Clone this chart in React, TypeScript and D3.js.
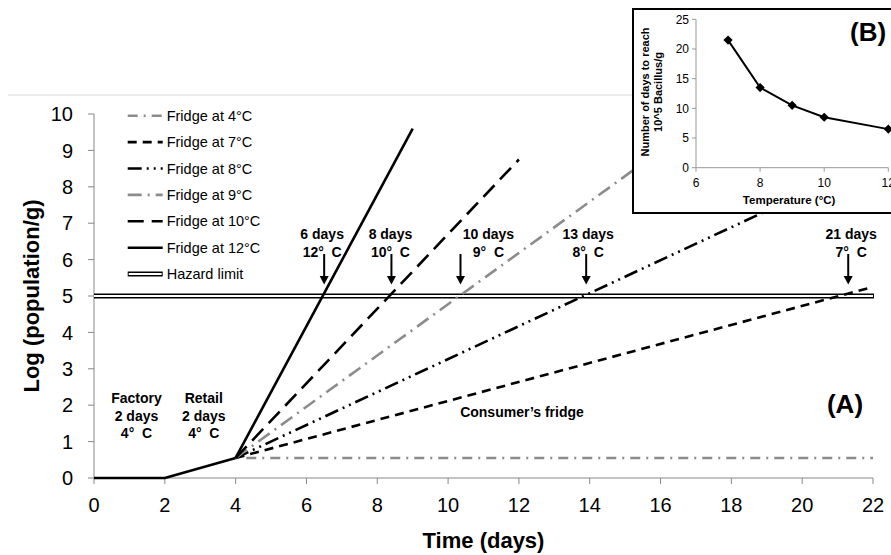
import React from "react";
import * as d3 from "d3";

// ---------- data ----------
const commonDays = [0, 2, 4];
const commonLog = [0, 0, 0.55];

const fridgeLabels = [
  "Fridge at 4°C",
  "Fridge at 7°C",
  "Fridge at 8°C",
  "Fridge at 9°C",
  "Fridge at 10°C",
  "Fridge at 12°C",
];
const fridgeStartDay = 4;
const fridgeStartLog = 0.55;
const fridgeEndDay = [22, 22, 22, 16, 12, 9];
const fridgeEndLog = [0.55, 5.25, 8.7, 9.0, 8.75, 9.6];

const hazardLimit = 5;
const hazardLabel = "Hazard limit";

const xTicks = [0, 2, 4, 6, 8, 10, 12, 14, 16, 18, 20, 22];
const yTicks = [0, 1, 2, 3, 4, 5, 6, 7, 8, 9, 10];

const annotDays = [6.5, 8.4, 10.35, 13.9, 21.3];
const annotTop = ["6 days", "8 days", "10 days", "13 days", "21 days"];
const annotBottom = ["12°  C", "10°  C", "9°  C", "8°  C", "7°  C"];

const stageLabels = [
  ["Factory", "2 days", "4°  C"],
  ["Retail", "2 days", "4°  C"],
];
const stageDays = [1.2, 3.1];

const insetTemps = [7, 8, 9, 10, 12];
const insetDays = [21.5, 13.5, 10.5, 8.5, 6.5];
const insetXTicks = [6, 8, 10, 12];
const insetYTicks = [0, 5, 10, 15, 20, 25];

// ---------- styles ----------
const GRAY = "#8c8c8c";
const fridgeColors = [GRAY, "#000", "#000", GRAY, "#000", "#000"];
const fridgeDash = ["10,6,2,6", "9,6", "14,5,2,5,2,5", "14,6,2,6", "16,8", "none"];
const annotTextDx = [-2, -1, 28, 2, 3];
const FONT = "'Liberation Sans', Arial, Helvetica, sans-serif";

export default function App() {
  const x = d3.scaleLinear().domain([0, 22]).range([94, 873]);
  const y = d3.scaleLinear().domain([0, 10]).range([478, 114]);
  const line = d3
    .line<[number, number]>()
    .x((d) => x(d[0]))
    .y((d) => y(d[1]));

  const ix = d3.scaleLinear().domain([6, 12]).range([696, 888.3]);
  const iy = d3.scaleLinear().domain([0, 25]).range([167.7, 19.3]);
  const iline = d3
    .line<[number, number]>()
    .x((d) => ix(d[0]))
    .y((d) => iy(d[1]));

  const commonPts: [number, number][] = commonDays.map((d, i) => [d, commonLog[i]]);
  const legendX0 = 127.7;
  const legendX1 = 162.7;
  const legendY0 = 115.7;
  const legendStep = 26.4;

  return (
    <svg
      width={891}
      height={555}
      style={{ position: "absolute", left: 0, top: 0, background: "#fff" }}
      fontFamily={FONT}
    >
      <rect x={0} y={0} width={891} height={555} fill="#fff" />
      {/* chart area top border */}
      <line x1={8} x2={891} y1={95} y2={95} stroke="#d9d9d9" strokeWidth={1} />

      {/* axes */}
      <line x1={x(0)} x2={x(0)} y1={y(10)} y2={y(0)} stroke="#888" strokeWidth={1} />
      <line x1={x(0)} x2={x(22)} y1={y(0)} y2={y(0)} stroke="#888" strokeWidth={1} />
      {yTicks.map((t) => (
        <g key={"yt" + t}>
          <line x1={x(0) - 6} x2={x(0)} y1={y(t)} y2={y(t)} stroke="#888" />
          <text x={73} y={y(t)} dy="0.36em" textAnchor="end" fontSize={20} fill="#000">
            {t}
          </text>
        </g>
      ))}
      {xTicks.map((t) => (
        <g key={"xt" + t}>
          <line x1={x(t)} x2={x(t)} y1={y(0)} y2={y(0) + 6} stroke="#888" />
          <text x={x(t)} y={512} textAnchor="middle" fontSize={20} fill="#000">
            {t}
          </text>
        </g>
      ))}
      <text x={(x(0) + x(22)) / 2} y={548} textAnchor="middle" fontSize={22} fontWeight="bold">
        Time (days)
      </text>
      <text
        transform={`translate(39, ${(y(0) + y(10)) / 2}) rotate(-90)`}
        textAnchor="middle"
        fontSize={22}
        fontWeight="bold"
      >
        Log (population/g)
      </text>

      {/* hazard limit */}
      <line x1={x(0)} x2={x(22) + 1} y1={y(hazardLimit)} y2={y(hazardLimit)} stroke="#000" strokeWidth={5} />
      <line x1={x(0)} x2={x(22)} y1={y(hazardLimit)} y2={y(hazardLimit)} stroke="#fff" strokeWidth={2} />

      {/* fridge lines */}
      {fridgeLabels.map((lab, i) => {
        const pts: [number, number][] = [
          [fridgeStartDay, fridgeStartLog],
          [fridgeEndDay[i], fridgeEndLog[i]],
        ];
        const p = [...pts];
        if (i === 0) p[0] = [fridgeStartDay + 0.3, fridgeStartLog];
        return (
          <path
            key={lab}
            d={line(p) || ""}
            fill="none"
            stroke={fridgeColors[i]}
            strokeWidth={2.6}
            strokeDasharray={fridgeDash[i]}
          />
        );
      })}
      <path d={line(commonPts) || ""} fill="none" stroke="#000" strokeWidth={2.6} strokeLinejoin="round" />

      {/* legend */}
      {fridgeLabels.map((lab, i) => {
        const yy = legendY0 + i * legendStep;
        return (
          <g key={"lg" + i}>
            <line
              x1={legendX0}
              x2={legendX1}
              y1={yy}
              y2={yy}
              stroke={fridgeColors[i]}
              strokeWidth={2.6}
              strokeDasharray={fridgeDash[i]}
            />
            <text x={166.7} y={yy} dy="0.35em" fontSize={14.5}>
              {lab}
            </text>
          </g>
        );
      })}
      {(() => {
        const yy = legendY0 + 6 * legendStep;
        return (
          <g>
            <line x1={legendX0} x2={legendX1} y1={yy} y2={yy} stroke="#000" strokeWidth={5} />
            <line x1={legendX0 + 1} x2={legendX1 - 1} y1={yy} y2={yy} stroke="#fff" strokeWidth={2} />
            <text x={166.7} y={yy} dy="0.35em" fontSize={14.5}>
              {hazardLabel}
            </text>
          </g>
        );
      })()}

      {/* annotations */}
      {annotDays.map((d, i) => {
        const ax = x(d);
        const tx = ax + annotTextDx[i];
        return (
          <g key={"an" + i}>
            <text x={tx} y={239} textAnchor="middle" fontSize={14} fontWeight="bold">
              {annotTop[i]}
            </text>
            <text x={tx} y={257} textAnchor="middle" fontSize={14} fontWeight="bold" style={{ whiteSpace: "pre" }}>
              {annotBottom[i]}
            </text>
            <line x1={ax} x2={ax} y1={254} y2={278} stroke="#000" strokeWidth={2} />
            <path d={`M${ax - 4.5},${276} L${ax + 4.5},${276} L${ax},${284.5} Z`} fill="#000" />
          </g>
        );
      })}

      {stageLabels.map((lines, i) => (
        <g key={"st" + i}>
          {lines.map((s, j) => (
            <text
              key={j}
              x={x(stageDays[i])}
              y={403.3 + j * 17.3}
              textAnchor="middle"
              fontSize={14}
              fontWeight="bold"
              style={{ whiteSpace: "pre" }}
            >
              {s}
            </text>
          ))}
        </g>
      ))}
      <text x={522} y={417} textAnchor="middle" fontSize={14} fontWeight="bold">
        Consumer’s fridge
      </text>
      <text x={845} y={413} textAnchor="middle" fontSize={26} fontWeight="bold">
        (A)
      </text>

      {/* inset (B) */}
      <rect x={633} y={9} width={300} height={204} fill="#fff" stroke="#000" strokeWidth={2} />
      <line x1={ix(6)} x2={ix(6)} y1={iy(0)} y2={iy(25)} stroke="#999" />
      <line x1={ix(6)} x2={ix(12)} y1={iy(0)} y2={iy(0)} stroke="#999" />
      {insetYTicks.map((t) => (
        <g key={"iy" + t}>
          <line x1={ix(6) - 4} x2={ix(6)} y1={iy(t)} y2={iy(t)} stroke="#999" />
          <text x={689} y={iy(t)} dy="0.35em" textAnchor="end" fontSize={12}>
            {t}
          </text>
        </g>
      ))}
      {insetXTicks.map((t) => (
        <g key={"ix" + t}>
          <line x1={ix(t)} x2={ix(t)} y1={iy(0)} y2={iy(0) + 4} stroke="#999" />
          <text x={ix(t)} y={187} textAnchor="middle" fontSize={12}>
            {t}
          </text>
        </g>
      ))}
      <text x={(ix(6) + ix(12)) / 2 - 3} y={204} textAnchor="middle" fontSize={11.5} fontWeight="bold">
        Temperature (°C)
      </text>
      <text transform={`translate(649, 92) rotate(-90)`} textAnchor="middle" fontSize={11} fontWeight="bold">
        Number of days to reach
      </text>
      <text transform={`translate(662, 92) rotate(-90)`} textAnchor="middle" fontSize={11} fontWeight="bold">
        10^5 Bacillus/g
      </text>
      <path
        d={iline(insetTemps.map((t, i) => [t, insetDays[i]] as [number, number])) || ""}
        fill="none"
        stroke="#000"
        strokeWidth={2}
      />
      {insetTemps.map((t, i) => {
        const cx = ix(t);
        const cy = iy(insetDays[i]);
        const r = 4.6;
        return <path key={"dm" + i} d={`M${cx},${cy - r} L${cx + r},${cy} L${cx},${cy + r} L${cx - r},${cy} Z`} fill="#000" />;
      })}
      <text x={850} y={41} fontSize={26} fontWeight="bold">
        (B)
      </text>
    </svg>
  );
}
